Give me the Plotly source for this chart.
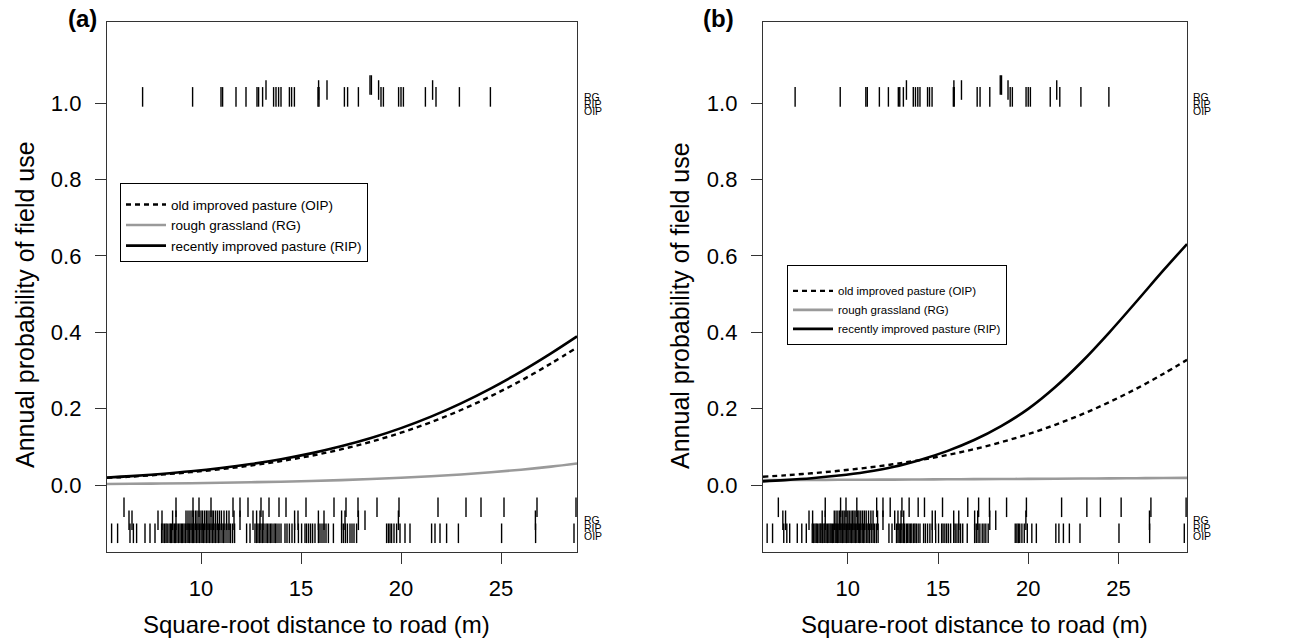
import plotly.graph_objects as go

# Square-root distance to road (m) at which the fitted curves are given
dist = [5.3, 6.5, 8, 9.5, 11, 12.5, 14, 15.5, 17, 18.5, 20, 21.5, 23, 24.5, 26, 27.5, 28.8]

# (a) fitted annual probability of field use
a_oip = [0.0189, 0.0223, 0.0276, 0.0340, 0.0418, 0.0513, 0.0629, 0.0768, 0.0936, 0.1136,
         0.1372, 0.1648, 0.1966, 0.2329, 0.2735, 0.3184, 0.3603]
a_rg = [0.0030, 0.0035, 0.0042, 0.0051, 0.0062, 0.0075, 0.0090, 0.0109, 0.0132, 0.0159,
        0.0192, 0.0232, 0.0279, 0.0336, 0.0404, 0.0485, 0.0568]
a_rip = [0.0199, 0.0236, 0.0293, 0.0362, 0.0448, 0.0552, 0.0678, 0.0831, 0.1015, 0.1233,
         0.1492, 0.1793, 0.2141, 0.2534, 0.2971, 0.3450, 0.3894]

# (b) fitted annual probability of field use
b_oip = [0.0219, 0.0256, 0.0310, 0.0375, 0.0452, 0.0545, 0.0656, 0.0787, 0.0941, 0.1124,
         0.1334, 0.1579, 0.1857, 0.2174, 0.2526, 0.2915, 0.3279]
b_rg = [0.0130, 0.0133, 0.0136, 0.0139, 0.0142, 0.0145, 0.0149, 0.0152, 0.0156, 0.0160,
        0.0164, 0.0168, 0.0172, 0.0176, 0.0181, 0.0186, 0.0190]
b_rip = [0.0098, 0.0130, 0.0180, 0.0250, 0.0345, 0.0475, 0.0660, 0.0890, 0.1180, 0.1545,
         0.1995, 0.2567, 0.3241, 0.3999, 0.4805, 0.5624, 0.6309]

# Fields used (plotted at the top) by pasture type
used_oip = [7.08, 9.58, 11.00, 11.08, 11.75, 12.25, 12.80, 12.88, 13.08, 13.63, 13.75,
            13.88, 14.00, 14.42, 14.53, 14.67, 15.85, 15.90, 17.17, 17.33, 17.87,
            19.00, 19.12, 19.88, 20.00, 20.12, 21.22, 21.75, 22.92, 24.47]
used_rip = [13.25, 15.88, 16.30, 18.88, 21.58]
used_rg = [18.45, 18.52]

# Fields not used (plotted at the bottom) by pasture type
unused_oip = [5.53, 5.83, 6.45, 6.62, 6.78, 7.20, 7.45, 7.70, 8.03, 8.10, 8.18, 8.25, 8.31,
              8.40, 8.47, 8.52, 8.60, 8.68, 8.73, 8.80, 8.88, 8.95, 9.02, 9.08, 9.15, 9.22,
              9.30, 9.36, 9.42, 9.50, 9.57, 9.63, 9.70, 9.78, 9.85, 9.92, 10.00, 10.06,
              10.13, 10.20, 10.28, 10.35, 10.42, 10.50, 10.58, 10.65, 10.72, 10.80, 10.88,
              10.95, 11.05, 11.12, 11.20, 11.30, 11.40, 11.48, 11.58, 11.68, 12.28, 12.45,
              12.70, 12.78, 12.85, 12.93, 13.00, 13.08, 13.15, 13.25, 13.32, 13.40, 13.48,
              13.55, 13.65, 13.72, 13.80, 13.90, 14.00, 14.20, 14.30, 14.42, 14.55, 14.68,
              14.87, 15.03, 15.20, 15.28, 15.38, 15.48, 15.58, 15.70, 15.87, 15.95, 16.05,
              16.15, 16.25, 16.37, 16.62, 17.03, 17.12, 17.22, 17.32, 17.45, 17.55, 17.65,
              17.78, 19.28, 19.37, 19.45, 19.53, 19.65, 19.78, 19.95, 20.20, 20.45, 21.53,
              21.70, 21.95, 22.28, 22.87, 25.03, 26.73, 28.65]
unused_rip = [6.40, 6.55, 7.85, 8.05, 8.58, 8.75, 9.25, 9.35, 9.45, 9.55, 9.62, 9.72, 9.80,
              9.90, 10.00, 10.08, 10.18, 10.27, 10.35, 10.45, 10.55, 10.62, 10.72, 10.82,
              10.92, 11.02, 11.15, 11.28, 11.40, 11.65, 11.95, 12.60, 12.78, 12.95, 13.10,
              14.68, 14.85, 15.87, 16.15, 17.03, 17.20, 17.87, 18.20, 19.87, 26.72]
unused_rg = [6.15, 8.75, 9.60, 9.90, 10.50, 11.60, 11.95, 12.35, 13.00, 13.40, 13.90, 14.25,
             15.25, 16.65, 17.25, 17.85, 18.80, 19.90, 21.85, 23.25, 24.00, 25.15, 26.80, 28.75]

x_ticks = [10, 15, 20, 25]
y_ticks = [0.0, 0.2, 0.4, 0.6, 0.8, 1.0]
row_names = ["RG", "RIP", "OIP"]
x_title = "Square-root distance to road (m)"
y_title = "Annual probability of field use"

FONT = "Liberation Sans, Arial, sans-serif"
W, H = 1295, 642
X_RANGE = [5.3, 28.8]
Y_RANGE = [-0.175, 1.212]

# rug row levels (data units), label levels and tick length (px)
TOP_ROWS = {"RG": 1.047, "RIP": 1.034, "OIP": 1.016}
BOT_ROWS = {"RG": -0.058, "RIP": -0.092, "OIP": -0.126}
TOP_LABELS = {"RG": 1.016, "RIP": 0.997, "OIP": 0.978}
BOT_LABELS = {"RG": -0.092, "RIP": -0.113, "OIP": -0.134}
RUG_LEN = 14

fig = go.Figure()

panels = [
    dict(xa="x", ya="y", leg="legend", curves=(a_oip, a_rg, a_rip)),
    dict(xa="x2", ya="y2", leg="legend2", curves=(b_oip, b_rg, b_rip)),
]
used = {"RG": used_rg, "RIP": used_rip, "OIP": used_oip}
unused = {"RG": unused_rg, "RIP": unused_rip, "OIP": unused_oip}

for p in panels:
    oip, rg, rip = p["curves"]
    styles = [
        ("old improved pasture (OIP)", oip, dict(color="black", width=2.4, dash="5px,4px")),
        ("rough grassland (RG)", rg, dict(color="#9a9a9a", width=2.6)),
        ("recently improved pasture (RIP)", rip, dict(color="black", width=2.6)),
    ]
    for name, vals, line in styles:
        fig.add_trace(go.Scatter(
            x=dist, y=vals, mode="lines", name=name,
            line=dict(shape="spline", smoothing=1.0, **line),
            xaxis=p["xa"], yaxis=p["ya"], legend=p["leg"], hoverinfo="skip"))
    for key in row_names:
        for vals, level in ((used[key], TOP_ROWS[key]), (unused[key], BOT_ROWS[key])):
            fig.add_trace(go.Scatter(
                x=vals, y=[level] * len(vals), mode="markers", showlegend=False,
                marker=dict(symbol="line-ns", size=RUG_LEN, line=dict(color="black", width=1.4)),
                xaxis=p["xa"], yaxis=p["ya"], hoverinfo="skip"))

axis_style = dict(
    showgrid=False, zeroline=False, showline=True, mirror=True,
    linecolor="#333333", linewidth=1.3,
    ticks="outside", ticklen=11, tickwidth=1.3, tickcolor="#333333",
    tickfont=dict(family=FONT, size=22, color="black"),
    automargin=False,
)

y_dom = [1 - 552 / H, 1 - 22 / H]
x_doms = [[107 / W, 577 / W], [763 / W, 1187 / W]]

layout = dict(
    width=W, height=H, margin=dict(l=0, r=0, t=0, b=0),
    paper_bgcolor="white", plot_bgcolor="white",
    font=dict(family=FONT, color="black"),
    annotations=[],
)

for i, (xa, ya) in enumerate((("xaxis", "yaxis"), ("xaxis2", "yaxis2"))):
    xid = "x" if i == 0 else "x2"
    yid = "y" if i == 0 else "y2"
    layout[xa] = dict(axis_style, domain=x_doms[i], range=X_RANGE, tickvals=x_ticks,
                      anchor=yid, ticklabelstandoff=5)
    layout[ya] = dict(axis_style, domain=y_dom, range=Y_RANGE, tickvals=y_ticks,
                      tickformat=".1f", anchor=xid, ticklabelstandoff=9)

# axis titles, placed as in the published figure
title_font = dict(family=FONT, size=24, color="black")
for xc in (316, 974):
    layout["annotations"].append(dict(
        text=x_title, x=xc / W, y=1 - 624 / H, xref="paper", yref="paper",
        xanchor="center", yanchor="middle", showarrow=False, font=title_font))
for xc in (25, 680):
    layout["annotations"].append(dict(
        text=y_title, x=xc / W, y=1 - 305 / H, xref="paper", yref="paper", textangle=-90,
        xanchor="center", yanchor="middle", showarrow=False,
        font=dict(title_font, size=25)))

legend_style = dict(xanchor="left", yanchor="top", bgcolor="white", bordercolor="black",
                    borderwidth=1, tracegroupgap=0, itemwidth=40)
layout["legend"] = dict(legend_style, x=120 / W, y=1 - 183 / H,
                        title=dict(text=" ", font=dict(size=4)),
                        font=dict(family=FONT, size=13.5, color="black"))
layout["legend2"] = dict(legend_style, x=787 / W, y=1 - 265 / H,
                         title=dict(text=" ", font=dict(size=8)),
                         font=dict(family=FONT, size=11.5, color="black"))

# panel letters
for txt, xp in (("(a)", 82), ("(b)", 718)):
    layout["annotations"].append(dict(
        text="<b>%s</b>" % txt, x=xp / W, y=1 - 18 / H, xref="paper", yref="paper",
        xanchor="center", yanchor="middle", showarrow=False,
        font=dict(family=FONT, size=24, color="black")))

# rug row labels in the right margin
for yid, xp in (("y", 582), ("y2", 1191)):
    for key in row_names:
        for lv in (TOP_LABELS[key], BOT_LABELS[key]):
            layout["annotations"].append(dict(
                text=key, x=xp / W, y=lv, xref="paper", yref=yid, xanchor="left",
                yanchor="middle", showarrow=False,
                font=dict(family=FONT, size=10.5, color="black")))

fig.update_layout(**layout)
fig.write_html("out.html")
